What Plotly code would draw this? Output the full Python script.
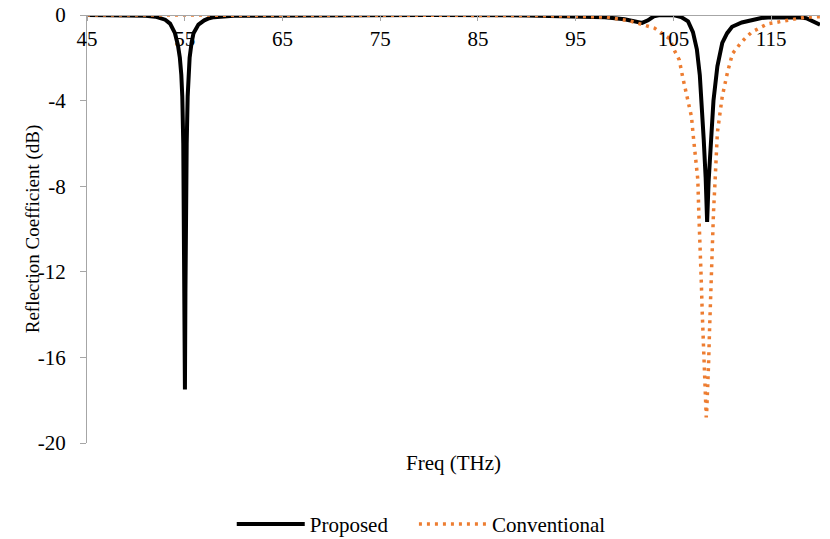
import plotly.graph_objects as go

# ---- data ----
prop_x = [45, 48, 50, 51, 52, 52.5, 53, 53.5, 54, 54.3, 54.5, 54.65, 54.75, 54.85, 54.92, 54.97, 55.02,
          55.07, 55.12, 55.2, 55.3, 55.4, 55.5, 55.7, 55.9, 56.4, 57, 57.5, 58, 60, 65, 70, 80, 90, 95,
          98, 100, 101, 101.8, 102.4, 103, 103.5, 104, 105, 105.8, 106.5, 107, 107.4, 107.7, 107.9, 108.1,
          108.3, 108.45, 108.6, 108.75, 108.9, 109.1, 109.5, 110, 110.5, 111, 112, 112.5, 113, 114, 115,
          116, 117, 118, 118.6, 119.3, 120]
prop_y = [0, -0.01, -0.02, -0.04, -0.08, -0.13, -0.22, -0.4, -0.85, -1.4, -2.0, -2.8, -3.8, -6, -9, -13, -17.5,
          -13, -9, -6, -3.8, -2.8, -2.0, -1.3, -0.85, -0.45, -0.25, -0.15, -0.1, -0.04, -0.02, -0.01, 0, -0.02, -0.05,
          -0.1, -0.2, -0.3, -0.37, -0.25, -0.06, -0.01, 0, 0, -0.1, -0.3, -0.8, -1.6, -2.8, -4.0, -5.8,
          -7.6, -9.67, -7.8, -6.8, -5.8, -4.0, -2.4, -1.3, -0.85, -0.55, -0.35, -0.3, -0.22, -0.14, -0.1,
          -0.1, -0.1, -0.12, -0.15, -0.28, -0.45]

conv_x = [45, 55, 65, 75, 85, 90, 94, 98.2, 100.5, 101.5, 102.2, 103.1, 103.8, 104.6, 105.1, 105.6, 105.95,
          106.45, 106.85, 107.0, 107.25, 107.5, 107.6, 107.75, 107.85, 107.95, 108.1, 108.2, 108.3, 108.36,
          108.4, 108.5, 108.6, 108.7, 108.8, 108.9, 109.1, 109.27, 109.5, 110.0, 110.55, 111.05, 112, 113,
          114.6, 116.9, 118.6, 119.7, 120]
conv_y = [0, 0, 0, 0, -0.01, -0.02, -0.05, -0.1, -0.27, -0.39, -0.5, -0.62, -0.85, -1.1, -1.65, -2.1, -2.9,
          -4.0, -4.75, -5.5, -6.6, -7.7, -9.25, -10.8, -12.4, -13.9, -15.8, -17.4, -18.4, -18.8,
          -18.6, -17.8, -16.3, -14.7, -13.2, -11.6, -9.25, -7.7, -5.5, -3.8, -2.65, -1.8, -1.25, -0.8,
          -0.42, -0.23, -0.1, -0.08, -0.08]

x_ticks = [45, 55, 65, 75, 85, 95, 105, 115]
y_ticks = [0, -4, -8, -12, -16, -20]
y_tick_text = ["0", "-4", "-8", "-12", "-16", "-20"]

FONT = "Liberation Serif, Times New Roman, serif"
AXC = "#a6a6a6"
PAD = "\u00a0" * 4  # spacing after first legend entry

fig = go.Figure()
fig.add_trace(go.Scatter(x=prop_x, y=prop_y, mode="lines", name="Proposed" + PAD,
                         line=dict(color="black", width=4)))
fig.add_trace(go.Scatter(x=conv_x, y=conv_y, mode="lines", name="Conventional",
                         line=dict(color="#ED7D31", width=3.5, dash="3px,5px")))

fig.update_layout(
    width=830, height=539,
    margin=dict(l=87, r=10, t=15, b=96, autoexpand=False),
    paper_bgcolor="white", plot_bgcolor="white",
    font=dict(family=FONT, size=21, color="black"),
    showlegend=True,
    legend=dict(orientation="h", x=0.456, xanchor="center", y=-0.19, yanchor="middle",
                font=dict(family=FONT, size=21), itemwidth=68),
    xaxis=dict(range=[45, 120], side="bottom", anchor="free", position=1, tickvals=x_ticks,
               automargin=False, ticklabeloverflow="allow",
               showgrid=False, zeroline=False,
               showline=True, linecolor=AXC, linewidth=1.2,
               ticks="outside", ticklen=5, tickcolor=AXC,
               tickfont=dict(family=FONT, size=21)),
    yaxis=dict(range=[-20, 0], tickvals=y_ticks, ticktext=y_tick_text, automargin=False,
               showgrid=False, zeroline=False, showline=True, linecolor=AXC, linewidth=1.2,
               ticks="outside", ticklen=6, tickcolor=AXC, ticklabelstandoff=10,
               tickfont=dict(family=FONT, size=21)),
    annotations=[
        dict(text="Freq (THz)", xref="paper", yref="paper", x=0.5, y=-0.047, yanchor="middle",
             showarrow=False, font=dict(family=FONT, size=21)),
        dict(text="Reflection Coefficient (dB)", xref="paper", yref="paper", x=-0.091, y=0.5,
             textangle=-90, showarrow=False, font=dict(family=FONT, size=19)),
    ],
)

fig.write_html("out.html", config={"displayModeBar": False},
               post_script="document.body.style.margin='0px';document.body.style.overflow='hidden';")
